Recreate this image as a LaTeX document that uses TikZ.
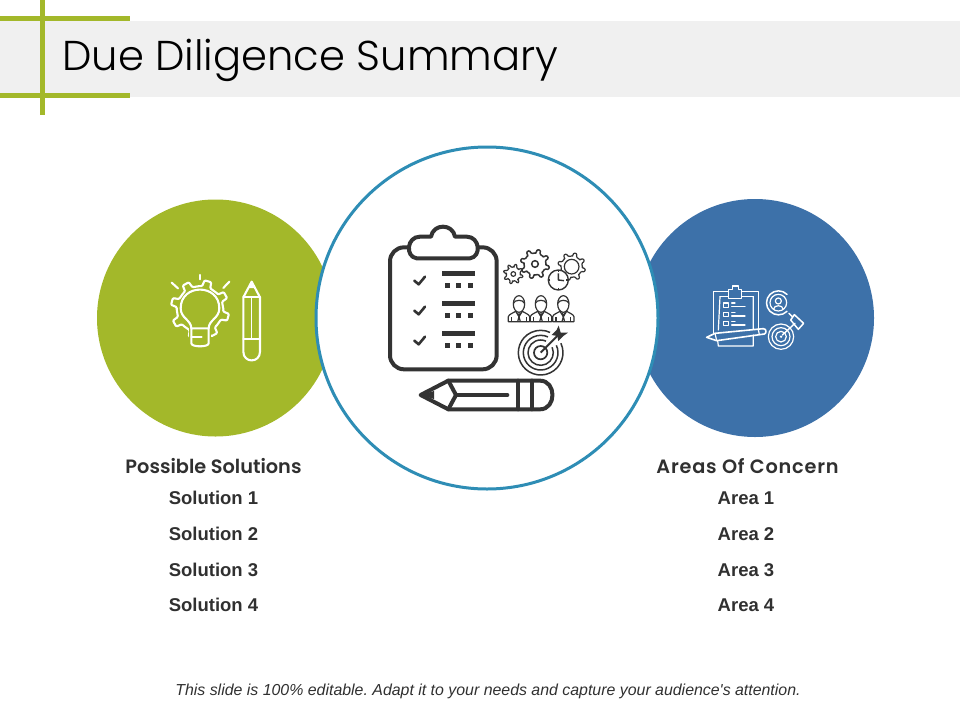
\documentclass[tikz,border=0pt]{standalone}
\usepackage{fontspec}
\setmainfont{Liberation Sans}
\newfontfamily\titlefont{Poppins Light}
\newfontfamily\headfont{Poppins SemiBold}
\newfontfamily\headwide[LetterSpace=4]{Poppins SemiBold}
\newfontfamily\notefont{Liberation Sans}
\definecolor{limeg}{HTML}{A3B82A}
\definecolor{blueg}{HTML}{3D71A9}
\definecolor{ringb}{HTML}{2E8DB5}
\definecolor{band}{HTML}{F0F0F0}
\definecolor{ink}{HTML}{333333}
\definecolor{txt}{HTML}{303030}
\newcommand{\gearicon}[6]{% cx cy rout rin teeth style
  \begin{scope}[shift={(#1,#2)}]
    \pgfmathsetmacro{\st}{360/#5}
    \draw[#6,line join=round,rounded corners=1pt] (0:#4)
      \foreach \k in {1,...,#5}{
        -- ({(\k-1)*\st+0.12*\st}:#4) -- ({(\k-1)*\st+0.2*\st}:#3) -- ({(\k-1)*\st+0.5*\st}:#3) -- ({(\k-1)*\st+0.58*\st}:#4) -- ({\k*\st}:#4)
      } -- cycle;
  \end{scope}}
\tikzset{
  x=1pt,y=-1pt,
  heavy/.style={draw=ink,line width=3.6pt,line join=round,line cap=round},
  thin ink/.style={draw=ink,line width=1.2pt,line join=round},
  wline/.style={draw=white,line width=2.1pt,line join=round,line cap=round},
  wfine/.style={draw=white,line width=1.2pt,line join=round,line cap=round},
  head lbl/.style={font=\headfont\fontsize{19.3}{22}\selectfont,text=txt,inner sep=0pt},
  head wide/.style={font=\headwide\fontsize{19.3}{22}\selectfont,text=txt,inner sep=0pt},
  item lbl/.style={font=\bfseries\fontsize{18.5}{20}\selectfont,text=txt,inner sep=0pt},
  note lbl/.style={font=\notefont\itshape\frenchspacing\fontsize{15.9}{18}\selectfont,text=txt,inner sep=0pt},
}
\begin{document}
\begin{tikzpicture}
\useasboundingbox (0,0) rectangle (960,720);
% header
\fill[band] (0,21) rectangle (960,97);
\fill[limeg] (0,16) rectangle (130,21);
\fill[limeg] (0,93) rectangle (130,98);
\fill[limeg] (40,0) rectangle (45,115);
\node[anchor=west,inner sep=0pt,text=black,font=\titlefont\fontsize{41.7}{48}\selectfont] (title) at (62,60) {Due Diligence Summary};
% circles
\fill[limeg] (215.5,318) circle[radius=118.5];
\fill[blueg] (755,318) circle[radius=119];
\draw[ringb,line width=3pt,fill=white] (487,318) circle[radius=171];
% centre icon (zoom coordinates)
\begin{scope}[shift={(370,210)},x=0.3333pt,y=-0.3333pt]
  \draw[heavy,line width=4pt,rounded corners=14pt] (120,112) -- (60,112) -- (60,478) -- (380,478) -- (380,112) -- (320,112);
  \draw[heavy,line width=4pt,fill=white] (140,145) .. controls (105,140) and (110,80) .. (150,80)
    -- (183,80) .. controls (190,40) and (248,40) .. (255,80) -- (290,80)
    .. controls (330,80) and (335,140) .. (300,145) -- cycle;
  \foreach \yy in {190,280,370}{
    \draw[heavy,line width=2.6pt] (133,\yy+22) -- (146,\yy+33) -- (165,\yy+10);
    \fill[ink] (217,\yy-7) rectangle (315,\yy+8);
    \foreach \xx in {225,258,294}{\fill[ink] (\xx,\yy+30) rectangle (\xx+14,\yy+44);}
  }
  % pencil
  \draw[heavy,line width=4pt] (152,555) -- (235,512) -- (510,512) .. controls (560,512) and (560,598) .. (510,598) -- (235,598) -- cycle;
  \draw[heavy,line width=4pt] (235,512) -- (258,555) -- (235,598);
  \draw[heavy,line width=4pt] (258,555) -- (412,555);
  \draw[heavy,line width=4pt] (445,512) -- (445,598) (485,512) -- (485,598);
  \fill[ink] (152,555) -- (192,543) -- (192,567) -- cycle;
  % gears
  \gearicon{430}{192}{30}{21}{8}{thin ink}
  \draw[thin ink] (430,192) circle[radius=7];
  \gearicon{495}{162}{44}{33}{8}{thin ink,line width=1.5pt}
  \draw[thin ink,line width=1.5pt] (495,162) circle[radius=10];
  \gearicon{605}{170}{42}{32}{8}{thin ink}
  \draw[thin ink] (605,170) circle[radius=22];
  \draw[thin ink,line width=1.4pt,fill=white] (565,210) circle[radius=30];
  \draw[thin ink,line width=1.4pt] (565,190) -- (565,210) -- (582,212);
  \foreach \aa in {0,90,180,270}{\draw[thin ink] (565,210) ++(\aa:24) -- ++(\aa:5);}
  % people
  \foreach \px in {447,513,580}{
    \draw[thin ink] (\px,282) ellipse[x radius=17,y radius=25];
    \draw[thin ink] (\px-17,280) .. controls (\px-12,268) and (\px+12,268) .. (\px+17,280);
    \draw[thin ink] (\px-32,335) -- (\px-32,320) .. controls (\px-30,312) and (\px-18,310) .. (\px-10,304)
      -- (\px,320) -- (\px+10,304) .. controls (\px+18,310) and (\px+30,312) .. (\px+32,320) -- (\px+32,335) -- cycle;
    \draw[thin ink] (\px-4,308) -- (\px,320) -- (\px+4,308) (\px,320) -- (\px-4,335) (\px,320) -- (\px+4,335);
    \draw[thin ink] (\px-22,322) -- (\px-22,335) (\px+22,322) -- (\px+22,335);
  }
  % target
  \foreach \rr in {67,52,38}{
    \draw[thin ink,line width=1.5pt] (512,428) ++(-25:\rr) arc[start angle=-25,end angle=295,radius=\rr];
  }
  \draw[thin ink,line width=1.7pt] (512,428) circle[radius=20];
  \draw[thin ink,line width=2pt] (512,428) -- (562,378);
  \fill[ink] (545,375) -- (560,360) -- (566,347) -- (572,368) -- (594,368) -- (580,378) -- (565,393) -- (562,378) -- cycle;
\end{scope}
% lightbulb and pencil
\begin{scope}[shift={(150,260)},x=0.3333pt,y=-0.3333pt]
  \gearicon{150}{148}{88}{70}{8}{wline}
  \fill[limeg] (118,195) rectangle (182,240);
  \draw[wline] (124,205) .. controls (124,180) and (92,175) .. (92,145) .. controls (92,70) and (208,70) .. (208,145) .. controls (208,175) and (176,180) .. (176,205);
  \draw[wline] (124,205) -- (176,205) -- (176,250) .. controls (176,262) and (124,262) .. (124,250) -- cycle;
  \draw[wline] (124,232) -- (155,232);
  \draw[wline] (150,45) -- (150,58);
  \draw[wline] (65,68) -- (84,85);
  \draw[wline] (238,65) -- (220,84);
  \draw[wline] (305,65) -- (280,112) -- (280,275) .. controls (280,310) and (330,310) .. (330,275) -- (330,112) -- cycle;
  \draw[wline] (280,112) -- (330,112);
  \draw[wline] (280,238) -- (330,238);
  \draw[wfine] (305,115) -- (305,235);
  \fill[white] (305,65) -- (296,84) -- (314,84) -- cycle;
\end{scope}
% blue icon
\begin{scope}[shift={(695,270)},x=0.3333pt,y=-0.3333pt]
  \draw[wline,line width=1.6pt] (100,65) -- (55,65) -- (55,190);
  \draw[wline,line width=1.6pt] (140,65) -- (190,65) -- (190,180);
  \draw[wfine] (75,80) -- (70,180) (175,80) -- (175,180);
  \draw[wfine] (75,80) -- (100,80) (140,80) -- (175,80);
  \draw[wline,line width=1.6pt] (100,85) -- (100,58) -- (112,58) -- (112,48) -- (130,48) -- (130,58) -- (140,58) -- (140,85) -- cycle;
  \foreach \yy in {105,133,160}{
    \draw[wline,line width=1.6pt] (85,\yy-6) rectangle (100,\yy+7);
    \draw[wfine] (110,\yy-6) -- (120,\yy-6) (110,\yy+5) -- (150,\yy+5);
  }
  \draw[wline,line width=1.6pt,fill=blueg] (35,202) -- (60,190) -- (205,176) .. controls (215,176) and (215,190) .. (208,192) -- (65,212) -- cycle;
  \draw[wfine] (60,190) -- (65,212) (190,178) -- (193,194);
  \draw[wfine] (70,228) -- (175,228) (70,228) -- (68,212) (175,228) -- (175,195);
  \draw[wline,line width=1.5pt] (276,124) arc[start angle=45,end angle=315,radius=36];
  \draw[wfine] (250,98) circle[radius=25];
  \draw[wfine] (250,93) circle[radius=9];
  \draw[wfine] (236,117) .. controls (236,104) and (264,104) .. (264,117);
  \draw[wline,line width=1.5pt] (282,130) -- (292,140) (287,150) -- (310,178) -- (326,160) -- (298,134) -- cycle;
  \foreach \rr in {38,27,16}{\draw[wfine] (258,200) circle[radius=\rr];}
  \fill[white] (258,200) circle[radius=4];
  \draw[wline,line width=1.4pt] (262,195) -- (300,160);
\end{scope}
% labels
\node[head lbl] (ps) at (213.5,466) {Possible Solutions};
\node[head wide] (ac) at (747.5,466) {Areas Of Concern};
\node[item lbl] (s1) at (213.5,498) {Solution 1};
\node[item lbl] (s2) at (213.5,533.5) {Solution 2};
\node[item lbl] (s3) at (213.5,569.5) {Solution 3};
\node[item lbl] (s4) at (213.5,605) {Solution 4};
\node[item lbl,anchor=base] (a1) at (746,504.5) {Area 1};
\node[item lbl,anchor=base] (a2) at (746,540) {Area 2};
\node[item lbl,anchor=base] (a3) at (746,576) {Area 3};
\node[item lbl,anchor=base] (a4) at (746,611.5) {Area 4};
\node[note lbl] (note) at (488,691) {This slide is 100\% editable. Adapt it to your needs and capture your audience's attention.};
\end{tikzpicture}
\end{document}
